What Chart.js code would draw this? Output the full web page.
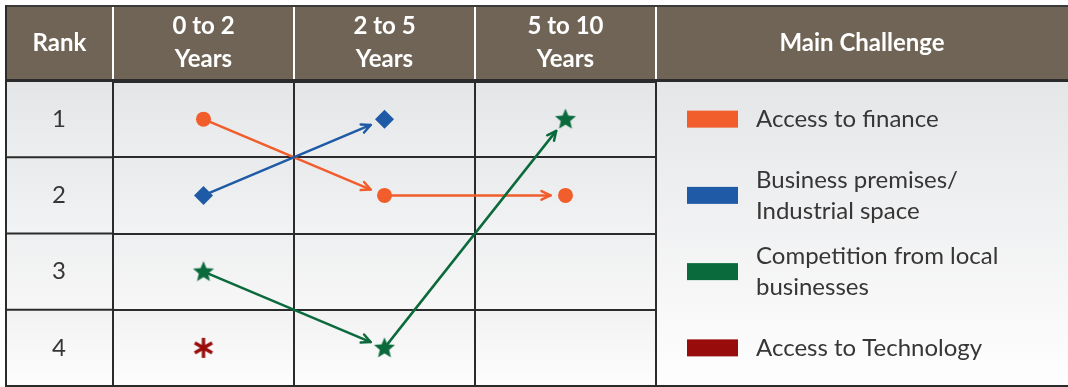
<!DOCTYPE html>
<html>
<head>
<meta charset="utf-8">
<script src="https://cdn.jsdelivr.net/npm/chart.js@4/dist/chart.umd.min.js"></script>
<style>
  html, body { margin: 0; padding: 0; background: #fff; overflow: hidden; }
  canvas { display: block; }
</style>
</head>
<body>
<canvas id="rankChart" width="1068" height="387"></canvas>
<script>
// Column headers: time since start-up
const periods = [['0 to 2', 'Years'], ['2 to 5', 'Years'], ['5 to 10', 'Years']];
const rankLabels = ['1', '2', '3', '4'];

// Main challenges, legend order (multi-line names)
const challenges = [
  ['Access to finance'],
  ['Business premises/', 'Industrial space'],
  ['Competition from local', 'businesses'],
  ['Access to Technology']
];
const challengeColors = ['#f15d2b', '#1f5aa6', '#0b6a3c', '#990c0c'];

// Rank of each challenge in each period (null = not in the top 4)
const financeRanks = [1, 2, 2];
const premisesRanks = [2, 1, null];
const competitionRanks = [3, 4, 1];
const technologyRanks = [4, null, null];

const FONT = 'Lato, "Open Sans", sans-serif';
const LINE = '#2b2b2b';
const HEADER_BG = '#6f6455';

// Filled five-point star used as a point image
function starMarker(color, r) {
  const size = Math.ceil(r * 2 + 2);
  const c = document.createElement('canvas');
  c.width = c.height = size;
  const g = c.getContext('2d');
  g.translate(size / 2, size / 2 + 0.5);
  g.beginPath();
  for (let i = 0; i < 10; i++) {
    const rad = i % 2 ? r * 0.45 : r;
    const a = -Math.PI / 2 + i * Math.PI / 5;
    g.lineTo(Math.cos(a) * rad, Math.sin(a) * rad);
  }
  g.closePath();
  g.fillStyle = color;
  g.fill();
  return c;
}

// Six-armed asterisk used as a point image
function asteriskMarker(color, r) {
  const size = Math.ceil(r * 2 + 4);
  const c = document.createElement('canvas');
  c.width = c.height = size;
  const g = c.getContext('2d');
  g.translate(size / 2, size / 2);
  g.strokeStyle = color;
  g.lineWidth = 3.4;
  g.lineCap = 'butt';
  [90, 30, -30].forEach(deg => {
    const a = deg * Math.PI / 180;
    g.beginPath();
    g.moveTo(Math.cos(a) * r, -Math.sin(a) * r);
    g.lineTo(-Math.cos(a) * r, Math.sin(a) * r);
    g.stroke();
  });
  return c;
}

const rankSeries = [financeRanks, premisesRanks, competitionRanks, technologyRanks];
const markerStyles = [
  'circle',
  'rectRot',
  starMarker(challengeColors[2], 11),
  asteriskMarker(challengeColors[3], 10)
];
const markerRadius = [7.5, 9.5, 11, 10];

const datasets = rankSeries.map((ranks, i) => ({
  label: challenges[i].join(' '),
  data: ranks.map(r => (r === null ? null : String(r))),
  borderColor: challengeColors[i],
  backgroundColor: challengeColors[i],
  pointStyle: markerStyles[i],
  pointRadius: markerRadius[i],
  pointBorderWidth: 0,
  showLine: false
}));

// Arrows between consecutive periods of the same challenge
const rankArrows = {
  id: 'rankArrows',
  beforeDatasetsDraw(chart) {
    const ctx = chart.ctx;
    chart.data.datasets.forEach((ds, di) => {
      const pts = chart.getDatasetMeta(di).data;
      for (let i = 0; i < pts.length - 1; i++) {
        const a = pts[i], b = pts[i + 1];
        if (a.skip || b.skip) continue;
        const dx = b.x - a.x, dy = b.y - a.y;
        const len = Math.hypot(dx, dy);
        const ux = dx / len, uy = dy / len;
        const gap = 15;
        const tx = b.x - ux * gap, ty = b.y - uy * gap;
        ctx.save();
        ctx.strokeStyle = ds.borderColor;
        ctx.lineWidth = 2.5;
        ctx.lineCap = 'round';
        ctx.lineJoin = 'round';
        ctx.beginPath();
        ctx.moveTo(a.x, a.y);
        ctx.lineTo(tx, ty);
        ctx.stroke();
        const head = 10, spread = 0.45;
        const ang = Math.atan2(uy, ux);
        ctx.beginPath();
        ctx.moveTo(tx - head * Math.cos(ang - spread), ty - head * Math.sin(ang - spread));
        ctx.lineTo(tx, ty);
        ctx.lineTo(tx - head * Math.cos(ang + spread), ty - head * Math.sin(ang + spread));
        ctx.stroke();
        ctx.restore();
      }
    });
  }
};

// Header band, row shading, rank column, legend panel and outer rules
const tableFrame = {
  id: 'tableFrame',
  rowEdges(chart) {
    const y = chart.scales.y;
    const edges = [];
    for (let i = 0; i <= rankLabels.length; i++) edges.push(y.getPixelForValue(i - 0.5));
    return edges;
  },
  beforeDraw(chart) {
    const { ctx, chartArea: ca, scales: { x } } = chart;
    const left = 6, right = chart.width, top = 6;
    ctx.save();
    // header band
    ctx.fillStyle = HEADER_BG;
    ctx.fillRect(left, top, right - left, ca.top - top);
    ctx.fillStyle = '#3a3a3a';
    ctx.fillRect(left, top - 1, right - left, 2);
    // white separators inside the header
    ctx.strokeStyle = '#ffffff';
    ctx.lineWidth = 2;
    const cols = [ca.left];
    for (let i = 0; i < periods.length; i++) cols.push(x.getPixelForValue(i + 0.5));
    cols.forEach(px => {
      ctx.beginPath();
      ctx.moveTo(px, top + 1);
      ctx.lineTo(px, ca.top - 1);
      ctx.stroke();
    });
    // shaded rows across rank column and plot
    const edges = this.rowEdges(chart);
    const tones = [['#e3e5e7', '#eceef0'], ['#e9eaec', '#f2f3f4'], ['#eeeff0', '#f7f7f7'], ['#f2f2f3', '#fdfdfd']];
    for (let i = 0; i < edges.length - 1; i++) {
      const g = ctx.createLinearGradient(0, edges[i], 0, edges[i + 1]);
      g.addColorStop(0, tones[i][0]);
      g.addColorStop(1, tones[i][1]);
      ctx.fillStyle = g;
      ctx.fillRect(left, edges[i], ca.right - left, edges[i + 1] - edges[i]);
    }
    // legend panel
    const lg = ctx.createLinearGradient(0, ca.top, 0, ca.bottom);
    lg.addColorStop(0, '#e5e6e8');
    lg.addColorStop(1, '#fefefe');
    ctx.fillStyle = lg;
    ctx.fillRect(ca.right, ca.top, right - ca.right, ca.bottom - ca.top);
    // header captions outside the period axis
    ctx.fillStyle = '#ffffff';
    ctx.font = 'bold 24px ' + FONT;
    ctx.textAlign = 'center';
    ctx.textBaseline = 'middle';
    const hy = (top + ca.top) / 2;
    ctx.fillText('Rank', (left + ca.left) / 2, hy);
    ctx.fillText('Main Challenge', (ca.right + right) / 2, hy);
    ctx.restore();
  },
  afterDraw(chart) {
    const { ctx, chartArea: ca, scales: { y } } = chart;
    const left = 6, right = chart.width;
    const edges = this.rowEdges(chart);
    ctx.save();
    ctx.strokeStyle = LINE;
    ctx.lineWidth = 2;
    // rank column rules
    edges.slice(1, -1).forEach(py => {
      ctx.beginPath();
      ctx.moveTo(left, py);
      ctx.lineTo(ca.left, py);
      ctx.stroke();
    });
    // left border, header included
    ctx.beginPath();
    ctx.moveTo(left, 5);
    ctx.lineTo(left, ca.bottom);
    ctx.stroke();
    // header bottom rule and table bottom rule across full width
    ctx.lineWidth = 3;
    ctx.beginPath();
    ctx.moveTo(left - 1, ca.top - 0.5);
    ctx.lineTo(right, ca.top - 0.5);
    ctx.stroke();
    ctx.lineWidth = 2;
    ctx.beginPath();
    ctx.moveTo(left - 1, ca.bottom);
    ctx.lineTo(right, ca.bottom);
    ctx.stroke();
    // legend, one entry per rank row
    const sx = ca.right + 31, tx = ca.right + 100, lh = 31;
    ctx.font = '24px ' + FONT;
    ctx.textAlign = 'left';
    ctx.textBaseline = 'middle';
    challenges.forEach((lines, i) => {
      const cy = y.getPixelForValue(i);
      ctx.fillStyle = challengeColors[i];
      ctx.fillRect(sx, cy - 8.5, 51, 17);
      ctx.fillStyle = '#363636';
      const y0 = cy - (lines.length - 1) * lh / 2;
      lines.forEach((t, k) => ctx.fillText(t, tx, y0 + k * lh));
    });
    ctx.restore();
  }
};

new Chart(document.getElementById('rankChart'), {
  type: 'line',
  data: { labels: periods, datasets },
  options: {
    responsive: false,
    animation: false,
    layout: { autoPadding: false, padding: { top: 6, left: 6, right: 412, bottom: 1 } },
    plugins: {
      legend: { display: false },
      tooltip: { enabled: false }
    },
    scales: {
      x: {
        type: 'category',
        position: 'top',
        offset: true,
        grid: { offset: true, drawTicks: false, color: LINE, lineWidth: 2 },
        border: { display: true, color: LINE, width: 3 },
        ticks: {
          color: '#ffffff',
          padding: 6,
          font: { family: FONT, size: 24, weight: 'bold', lineHeight: 1.34 }
        },
        afterFit(scale) {
          scale.height = 75;
          scale.paddingLeft = scale.paddingRight = 0;
        }
      },
      y: {
        type: 'category',
        labels: rankLabels,
        offset: true,
        grid: { offset: true, drawTicks: false, color: LINE, lineWidth: 2 },
        border: { display: true, color: LINE, width: 2 },
        ticks: {
          color: '#363636',
          crossAlign: 'center',
          padding: 47,
          font: { family: FONT, size: 24 }
        },
        afterFit(scale) {
          scale.width = 107;
          scale.paddingTop = scale.paddingBottom = 0;
        }
      }
    }
  },
  plugins: [tableFrame, rankArrows]
});
</script>
</body>
</html>
